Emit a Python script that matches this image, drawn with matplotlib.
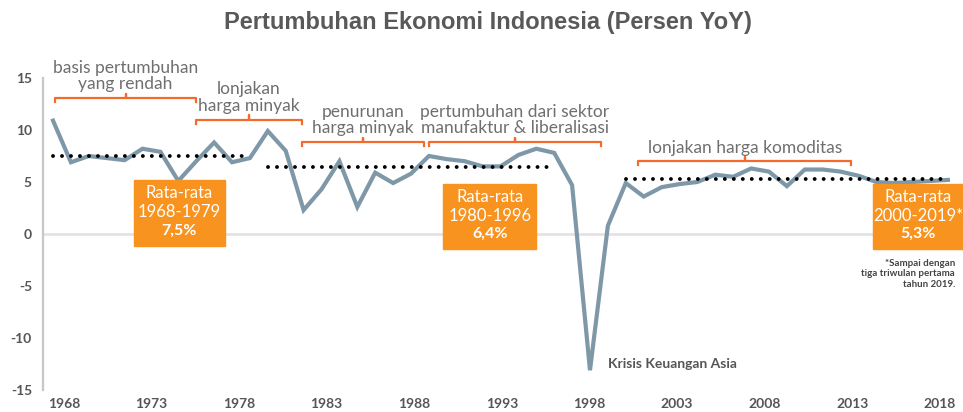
import numpy as np
import matplotlib.pyplot as plt
from matplotlib.patches import Rectangle

# Indonesian GDP growth, percent YoY
years = np.arange(1968, 2019)
growth = [10.9, 6.9, 7.5, 7.3, 7.1, 8.2, 7.9, 5.1, 7.0, 8.8,
          6.9, 7.3, 9.9, 8.0, 2.3, 4.3, 7.0, 2.6, 5.9, 4.9,
          5.8, 7.5, 7.2, 7.0, 6.5, 6.5, 7.6, 8.2, 7.8, 4.7,
          -13.1, 0.8, 4.9, 3.6, 4.5, 4.8, 5.0, 5.7, 5.5, 6.3,
          6.0, 4.6, 6.2, 6.2, 6.0, 5.6, 5.0, 4.9, 5.0, 5.1,
          5.2]

# period averages
avg_start = [1968, 1980, 2000]
avg_end = [1979, 1996, 2018]
avg_value = [7.5, 6.4, 5.3]
avg_label = ['1968-1979', '1980-1996', '2000-2019*']
avg_text = ['7,5%', '6,4%', '5,3%']

# phases (bracket start / end years and captions)
phase_start = [1968.1, 1976.0, 1981.9, 1989.0, 2000.7]
phase_end = [1976.0, 1981.9, 1988.7, 1998.6, 2012.6]
phase_text = ['basis pertumbuhan\nyang rendah', 'lonjakan\nharga minyak',
              'penurunan\nharga minyak',
              'pertumbuhan dari sektor\nmanufaktur & liberalisasi',
              'lonjakan harga komoditas']

tick_years = [1968, 1973, 1978, 1983, 1988, 1993, 1998, 2003, 2008, 2013, 2018]

# layout only
phase_y = [13.1, 11.0, 8.85, 8.85, 7.0]
box_x = [(1972.5, 1977.6), (1989.8, 1995.0), (2013.8, 2018.9)]
box_y = [(-1.15, 5.2), (-1.45, 4.8), (-1.45, 4.8)]

LINE = '#7f98a8'
BRACKET = '#f26a2c'
BOX = '#f7931e'
TEXT = '#6f6f6f'
DARK = '#555555'

plt.rcParams['font.family'] = ['Lato', 'DejaVu Sans']
plt.rcParams['axes.unicode_minus'] = False

fig = plt.figure(figsize=(9.63, 4.12), dpi=100)
ax = fig.add_axes([43/963, 22/412, 920/963, 312/412])

ax.plot(years, growth, color=LINE, lw=3, solid_joinstyle='miter', zorder=3)

for x0, x1, v in zip(avg_start, avg_end, avg_value):
    ax.plot([x0, x1], [v, v], color='black', lw=2.8,
            linestyle=(0, (0.01, 2.3)), dash_capstyle='round', zorder=4)

ax.axhline(0, color='#e3e3e3', lw=2, zorder=1)

# brackets + captions
h = 0.4
for x0, x1, y, txt in zip(phase_start, phase_end, phase_y, phase_text):
    xm = (x0 + x1) / 2
    ax.plot([x0, x0, xm, xm, xm, x1, x1], [y - h, y, y, y + h, y, y, y - h],
            color=BRACKET, lw=1.6, clip_on=False, zorder=2)
    ax.annotate(txt, xy=(xm, y), xytext=(0, 4), textcoords='offset points',
                ha='center', va='bottom', fontsize=12.5, color=TEXT,
                linespacing=1.05, annotation_clip=False)

# orange average boxes
for (x0, x1), (y0, y1), lab, pct in zip(box_x, box_y, avg_label, avg_text):
    ax.add_patch(Rectangle((x0, y0), x1 - x0, y1 - y0, color=BOX,
                           clip_on=False, zorder=5))
    xc = (x0 + x1) / 2
    yc = (y0 + y1) / 2
    ax.annotate('Rata-rata', xy=(xc, yc), xytext=(0, 14),
                textcoords='offset points', ha='center', va='center',
                color='white', fontsize=12, zorder=6)
    ax.annotate(lab, xy=(xc, yc), xytext=(0, 0.5),
                textcoords='offset points', ha='center', va='center',
                color='white', fontsize=12, zorder=6)
    ax.annotate(pct, xy=(xc, yc), xytext=(0, -12.5),
                textcoords='offset points', ha='center', va='center',
                color='white', fontsize=11.5, fontweight='bold', zorder=6)

i_min = int(np.argmin(growth))
ax.annotate('Krisis Keuangan Asia', xy=(years[i_min], growth[i_min]),
            xytext=(13, 4.5), textcoords='offset points', ha='left',
            va='center', fontsize=10, fontweight='bold', color=DARK)

fig.text(955/963, 1 - 274/412, '*Sampai dengan\ntiga triwulan pertama\ntahun 2019.',
         ha='right', va='center', fontsize=7, fontweight='bold', color='#444444',
         linespacing=1.2)

fig.text(0.507, 1 - 22/412, 'Pertumbuhan Ekonomi Indonesia (Persen YoY)',
         ha='center', va='center', fontsize=17, fontweight='bold',
         color='#595959', family=['Liberation Sans', 'DejaVu Sans'])

ax.set_xlim(1967.44, 2018.84)
ax.set_ylim(-15, 15)
ax.set_yticks([-15, -10, -5, 0, 5, 10, 15])
# the tick labels in the source sit slightly off the data years
ax.set_xticks(np.linspace(1968.6, 2017.55, len(tick_years)))
ax.set_xticklabels([str(y) for y in tick_years])
ax.tick_params(length=0, labelsize=10, labelcolor=DARK)
ax.tick_params(axis='y', pad=8)
ax.tick_params(axis='x', pad=6)
for lbl in ax.get_xticklabels() + ax.get_yticklabels():
    lbl.set_fontweight('bold')

for s in ['top', 'right', 'bottom']:
    ax.spines[s].set_visible(False)
ax.spines['left'].set_color('#c8c8c8')
ax.spines['left'].set_linewidth(1.6)

fig.savefig('out.png', dpi=100)
